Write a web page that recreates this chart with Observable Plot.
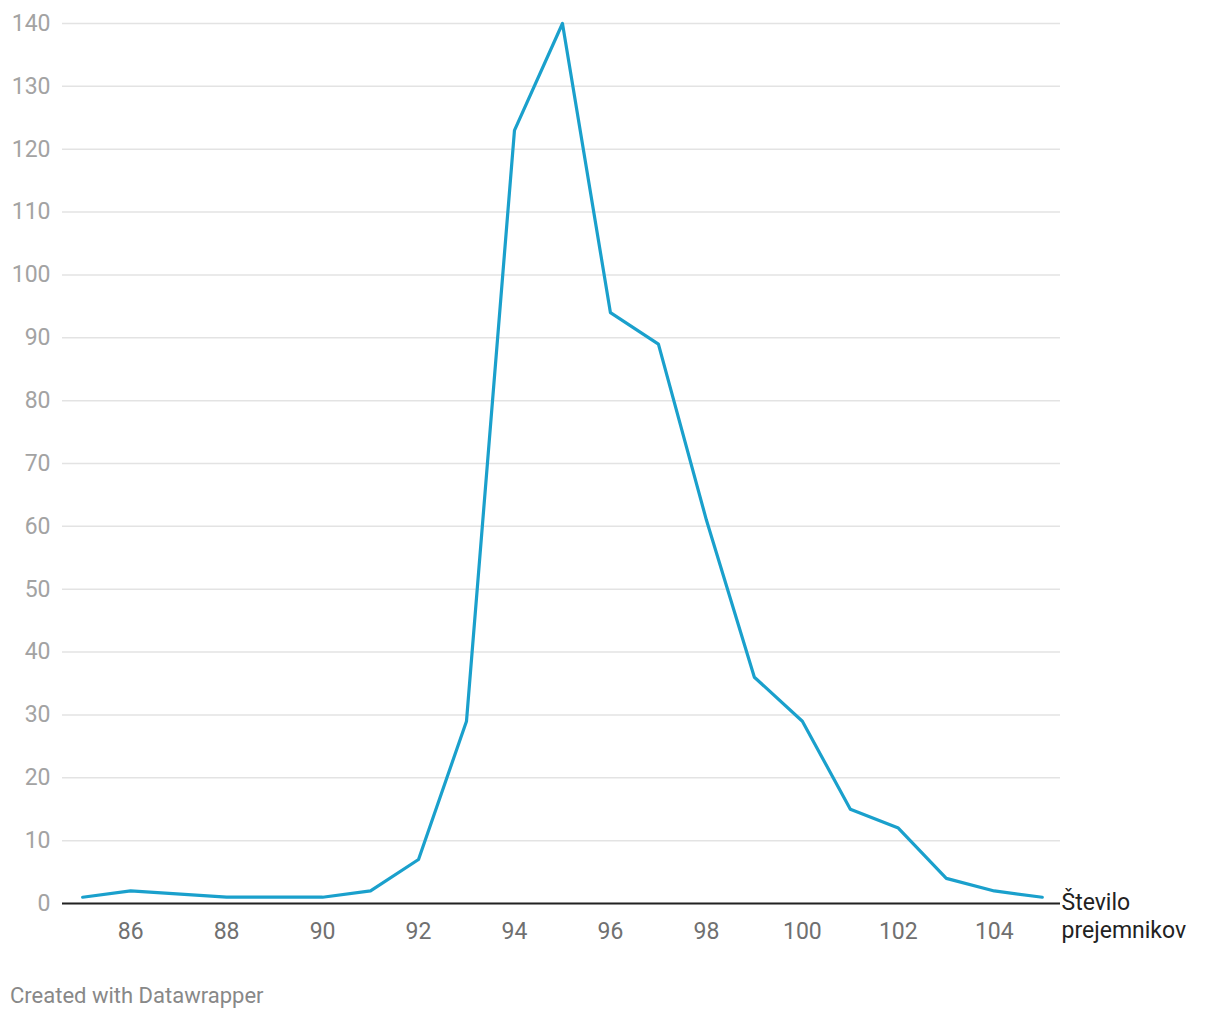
<!DOCTYPE html>
<html>
<head>
<meta charset="utf-8">
<script src="https://cdn.jsdelivr.net/npm/d3@7"></script>
<script src="https://cdn.jsdelivr.net/npm/@observablehq/plot@0.6"></script>
<style>
  html, body { margin: 0; padding: 0; background: #fff; }
  body { width: 1220px; height: 1020px; font-family: Roboto, sans-serif; }
  #chart svg { display: block; overflow: visible; }
  .caption { position: absolute; left: 10px; top: 983px; font: 22px Roboto, sans-serif; color: #888; }
</style>
</head>
<body>
<div id="chart"></div>
<div class="caption">Created with Datawrapper</div>
<script>
const points = [85, 86, 88, 89, 90, 91, 92, 93, 94, 95, 96, 97, 98, 99, 100, 101, 102, 103, 104, 105];
const recipients = [1, 2, 1, 1, 1, 2, 7, 29, 123, 140, 94, 89, 61, 36, 29, 15, 12, 4, 2, 1];
const xTicks = [86, 88, 90, 92, 94, 96, 98, 100, 102, 104];
const yTicks = [0, 10, 20, 30, 40, 50, 60, 70, 80, 90, 100, 110, 120, 130, 140];
const axisLabel = "Število\nprejemnikov";

const data = points.map((p, i) => ({x: p, y: recipients[i]}));
const xDomain = [84.58, 105.38];

const chart = Plot.plot({
  width: 1220,
  height: 960,
  marginLeft: 62,
  marginRight: 160,
  marginTop: 23,
  marginBottom: 57,
  style: {fontFamily: "Roboto, sans-serif", fontSize: "23px", background: "#fff"},
  x: {domain: xDomain, ticks: xTicks, label: null},
  y: {domain: [0, 140], ticks: yTicks, label: null},
  marks: [
    Plot.gridY(yTicks, {stroke: "#e3e3e3", strokeOpacity: 1, strokeWidth: 1.5}),
    Plot.axisY(yTicks, {tickSize: 0, tickPadding: 12, fill: "#a3a3a3", fontSize: 23, label: null}),
    Plot.axisX(xTicks, {tickSize: 0, tickPadding: 19, fill: "#707070", fontSize: 23, label: null}),
    Plot.ruleY([0], {stroke: "#222", strokeWidth: 2}),
    Plot.line(data, {x: "x", y: "y", stroke: "#1aa0cc", strokeWidth: 3.2, strokeLinejoin: "round"}),
    Plot.text([axisLabel], {x: xDomain[1], y: 0, text: d => d, textAnchor: "start", lineAnchor: "top", dx: 1, dy: -13, fill: "#222", fontSize: 23, lineHeight: 1.2})
  ]
});
document.getElementById("chart").appendChild(chart);
</script>
</body>
</html>
